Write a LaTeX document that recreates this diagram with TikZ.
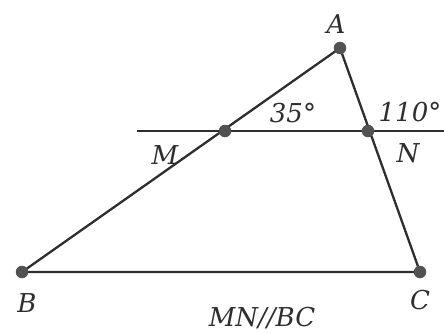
\documentclass[tikz,border=0pt]{standalone}
\usepackage{fontspec}
\setmainfont{DejaVu Serif}
\usetikzlibrary{positioning}
\tikzset{
dot/.style={circle,fill=black!68,inner sep=0pt,minimum size=12.5pt},
seg/.style={black!82,line width=2.3pt},
lab/.style={font=\fontsize{26}{28}\selectfont\itshape,text=black!82,inner sep=0pt},
}

\begin{document}
\begin{tikzpicture}[x=1pt,y=-1pt]
\useasboundingbox (0,0) rectangle (444,332);
\coordinate (a) at (340,48);
\coordinate (b) at (22,272);
\coordinate (c) at (420,272);
\coordinate (m) at (225,131);
\coordinate (n) at (368,131);
\coordinate (left) at (137,131);
\coordinate (right) at (444,131);
\draw[seg] (left) -- (right);
\draw[seg] (b) -- (a) -- (c) -- cycle;
\node[dot] (A) at (a) {};
\node[dot] (B) at (b) {};
\node[dot] (C) at (c) {};
\node[dot] (M) at (m) {};
\node[dot] (N) at (n) {};
% labels
\node[lab,above=8pt of A,xshift=-4pt] (lA) {A};
\node[lab,below=15pt of B,xshift=5pt] (lB) {B};
\node[lab,below=12pt of C] (lC) {C};
\node[lab,below=8pt of M,xshift=-60pt] (lM) {M};
\node[lab,below=6pt of N,xshift=40pt] (lN) {N};
\node[lab,above=1pt of M,xshift=68pt] (ang1) {35°};
\node[lab,above=2pt of N,xshift=42pt] (ang2) {110°};
\node[lab,below=29pt of B,xshift=240pt] (par) {MN//BC};
\end{tikzpicture}
\end{document}
